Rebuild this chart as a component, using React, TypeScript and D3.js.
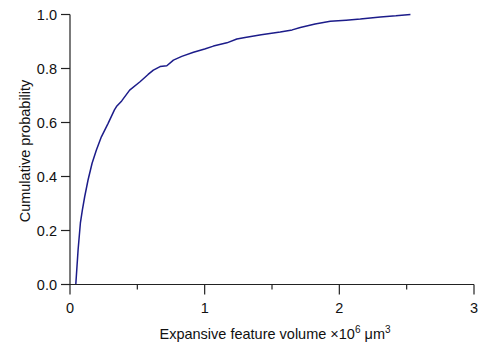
import React from "react";
import * as d3 from "d3";

const volumes = [0.043, 0.06, 0.077, 0.092, 0.109, 0.134, 0.164, 0.196, 0.233, 0.283, 0.33, 0.345, 0.384, 0.443, 0.52, 0.58, 0.619, 0.669, 0.719, 0.768, 0.83, 0.917, 1.0, 1.065, 1.165, 1.239, 1.3, 1.42, 1.561, 1.65, 1.71, 1.82, 1.933, 2.05, 2.156, 2.305, 2.42, 2.528];
const cumProb = [0.0, 0.128, 0.227, 0.276, 0.325, 0.387, 0.449, 0.498, 0.547, 0.597, 0.647, 0.659, 0.68, 0.72, 0.751, 0.778, 0.794, 0.807, 0.81, 0.831, 0.845, 0.86, 0.872, 0.883, 0.895, 0.909, 0.915, 0.925, 0.935, 0.943, 0.952, 0.965, 0.975, 0.979, 0.983, 0.991, 0.995, 1.0];

const xTicks = [0, 1, 2, 3];
const xMinorTicks = [0.5, 1.5, 2.5];
const yTicks = [0, 0.2, 0.4, 0.6, 0.8, 1.0];

const W = 480, H = 347;
const x = d3.scaleLinear().domain([0, 3]).range([70, 474]);
const y = d3.scaleLinear().domain([0, 1]).range([284.5, 14.5]);

export default function App() {
  const pts: [number, number][] = volumes.map((v, i) => [v, cumProb[i]]);
  const line = d3.line<[number, number]>().x(d => x(d[0])).y(d => y(d[1]))(pts) || "";
  const axisColor = "#222";
  const font = "'Liberation Sans', Arial, sans-serif";
  const fs = 14.5;
  return (
    <svg width={W} height={H} style={{ position: "absolute", left: 0, top: 0, background: "#fff" }} fontFamily={font}>
      <path d={line} fill="none" stroke="#1c1c8a" strokeWidth={1.5} strokeLinejoin="round" />
      <line x1={x(0)} x2={x(0)} y1={y(1)} y2={y(0)} stroke={axisColor} strokeWidth={1.2} />
      <line x1={x(0)} x2={x(3)} y1={y(0)} y2={y(0)} stroke={axisColor} strokeWidth={1.2} />
      {yTicks.map(t => (
        <g key={"y" + t}>
          <line x1={x(0) - 9} x2={x(0)} y1={y(t)} y2={y(t)} stroke={axisColor} strokeWidth={1.2} />
          <text x={57} y={y(t)} dy="0.35em" textAnchor="end" fontSize={fs} fill="#111">{t.toFixed(1)}</text>
        </g>
      ))}
      {xTicks.map(t => (
        <g key={"x" + t}>
          <line x1={x(t)} x2={x(t)} y1={y(0)} y2={y(0) + 10} stroke={axisColor} strokeWidth={1.2} />
          <text x={x(t)} y={313} textAnchor="middle" fontSize={fs} fill="#111">{t}</text>
        </g>
      ))}
      {xMinorTicks.map(t => (
        <line key={"m" + t} x1={x(t)} x2={x(t)} y1={y(0)} y2={y(0) + 5} stroke={axisColor} strokeWidth={1.2} />
      ))}
      <text x={275} y={339} textAnchor="middle" fontSize={fs} fill="#111">
        Expansive feature volume ×10<tspan dy={-6} fontSize={10}>6</tspan><tspan dy={6}> μm</tspan><tspan dy={-6} fontSize={10}>3</tspan>
      </text>
      <text transform={`translate(30,151) rotate(-90)`} textAnchor="middle" fontSize={fs} fill="#111">Cumulative probability</text>
    </svg>
  );
}
